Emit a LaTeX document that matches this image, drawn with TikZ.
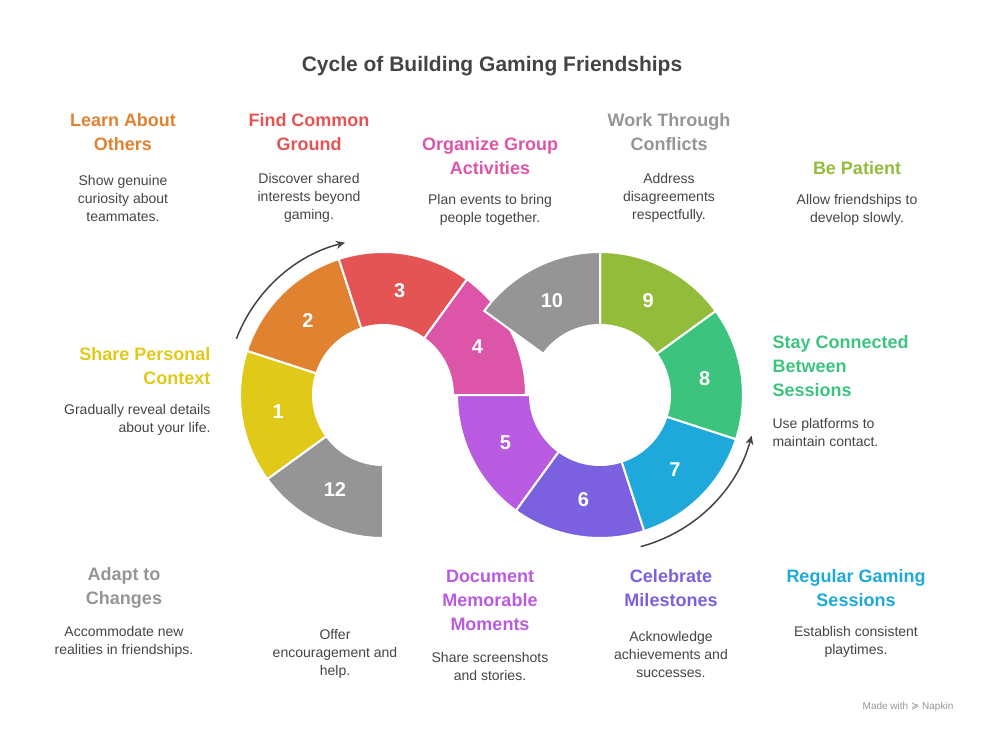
\documentclass[tikz,border=0pt]{standalone}
\usepackage{fontspec}
\setmainfont{Liberation Sans}
\newfontfamily\symfont{DejaVu Sans}
\usetikzlibrary{arrows.meta}
\definecolor{cyel}{HTML}{E0C918}
\definecolor{cora}{HTML}{E08230}
\definecolor{cred}{HTML}{E55454}
\definecolor{cpin}{HTML}{DD55A8}
\definecolor{cpur}{HTML}{B85BE0}
\definecolor{cvio}{HTML}{7B60E0}
\definecolor{cblu}{HTML}{1FA9DB}
\definecolor{cgre}{HTML}{3CC47F}
\definecolor{clim}{HTML}{92BC3A}
\definecolor{cgry}{HTML}{959595}
\definecolor{ctxt}{HTML}{444444}
\tikzset{
  head/.style={font=\fontsize{18}{24}\selectfont\bfseries, align=center},
  body/.style={font=\fontsize{14}{18}\selectfont, text=ctxt, align=center},
  num/.style={font=\fontsize{20}{24}\selectfont\bfseries, text=white},
  seg/.style={draw=white, line width=2pt},
  turn/.style={ctxt, line width=1.5pt, -{Stealth[length=9pt,width=8pt]}}
}
\begin{document}
\begin{tikzpicture}[x=1pt,y=1pt]
\useasboundingbox (0,0) rectangle (984,732);
\node[font=\fontsize{21}{24}\selectfont\bfseries, text=ctxt] (title) at (492,666) {Cycle of Building Gaming Friendships};
% left ring
\begin{scope}[shift={(383,337)}]
\foreach \a/\b/\c/\n in {216/270/cgry/12, 162/216/cyel/1, 108/162/cora/2, 54/108/cred/3, 0/54/cpin/4}{
  \fill[\c, seg] (\a:143) arc (\a:\b:143) -- (\b:70) arc (\b:\a:70) -- cycle;
  \node[num] (s\n) at ({(\a+\b)/2}:106) {\n};
}
\draw[turn] (159:157) arc (159:104:157);
\end{scope}
% right ring
\begin{scope}[shift={(600,337)}]
\foreach \a/\b/\c/\n in {180/234/cpur/5, 234/288/cvio/6, 288/342/cblu/7, 342/396/cgre/8, 36/90/clim/9, 90/144/cgry/10}{
  \fill[\c, seg] (\a:143) arc (\a:\b:143) -- (\b:70) arc (\b:\a:70) -- cycle;
  \node[num] (s\n) at ({(\a+\b)/2}:106) {\n};
}
\draw[turn] (285:157) arc (285:345:157);
\end{scope}
% top labels
\node[head, text=cora] (h2) at (123,600) {Learn About\\Others};
\node[body] (b2) at (123,534) {Show genuine\\curiosity about\\teammates.};
\node[head, text=cred] (h3) at (309,600) {Find Common\\Ground};
\node[body] (b3) at (309,534) {Discover shared\\interests beyond\\gaming.};
\node[head, text=cpin] (h4) at (490,576) {Organize Group\\Activities};
\node[body] (b4) at (490,522) {Plan events to bring\\people together.};
\node[head, text=cgry] (h10) at (669,600) {Work Through\\Conflicts};
\node[body] (b10) at (669,534) {Address\\disagreements\\respectfully.};
\node[head, text=clim] (h9) at (857,564) {Be Patient};
\node[body] (b9) at (857,522) {Allow friendships to\\develop slowly.};
% side labels
\node[head, text=cyel, align=right, anchor=east] (h1) at (214,366) {Share Personal\\Context};
\node[body, align=right, anchor=east] (b1) at (214,312) {Gradually reveal details\\about your life.};
\node[head, text=cgre, align=left, anchor=west] (h8) at (769,366) {Stay Connected\\Between\\Sessions};
\node[body, align=left, anchor=west] (b8) at (769,300) {Use platforms to\\maintain contact.};
% bottom labels
\node[head, text=cgry] (h12) at (124,144) {Adapt to\\Changes};
\node[body] (b12) at (124,90) {Accommodate new\\realities in friendships.};
\node[body] (b11) at (335,78) {Offer\\encouragement and\\help.};
\node[head, text=cpur] (h5) at (490,132) {Document\\Memorable\\Moments};
\node[body] (b5) at (490,66) {Share screenshots\\and stories.};
\node[head, text=cvio] (h6) at (671,144) {Celebrate\\Milestones};
\node[body] (b6) at (671,78) {Acknowledge\\achievements and\\successes.};
\node[head, text=cblu] (h7) at (856,144) {Regular Gaming\\Sessions};
\node[body] (b7) at (856,90) {Establish consistent\\playtimes.};
\node[font=\fontsize{10}{12}\selectfont, text=cgry] (mark) at (908,25) {Made with {\symfont ≽} Napkin};
\end{tikzpicture}
\end{document}
